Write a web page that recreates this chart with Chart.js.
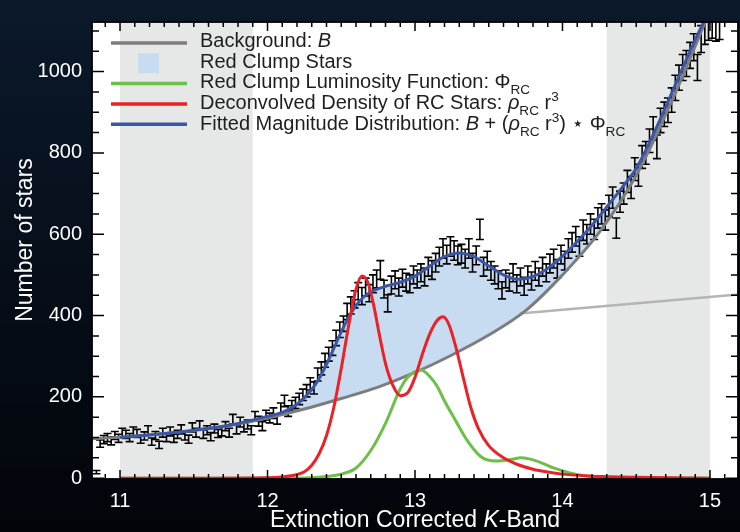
<!DOCTYPE html>
<html>
<head>
<meta charset="utf-8">
<title>Red Clump magnitude distribution</title>
<script src="https://cdn.jsdelivr.net/npm/chart.js@4.4.1/dist/chart.umd.min.js"></script>
<style>
  html, body { margin: 0; padding: 0; background: #050b14; }
  #wrap { width: 740px; height: 532px; }
</style>
</head>
<body>
<div id="wrap"><canvas id="grafica" width="740" height="532"></canvas></div>
<script>
// histogram: bin centres start at 10.84 mag, 0.025 mag wide
const binStart = 10.84;
const binWidth = 0.025;
const starCounts = [
  15, 85, 95, 100, 92, 105, 98, 112, 108, 100,
  115, 110, 96, 104, 118, 90, 105, 82, 112, 100,
  115, 98, 108, 120, 104, 96, 125, 112, 130, 108,
  118, 102, 122, 110, 115, 128, 112, 145, 120, 138,
  125, 132, 118, 152, 140, 128, 155, 148, 160, 145,
  172, 190, 165, 178, 185, 195, 205, 215, 232, 222,
  255, 270, 290, 305, 320, 345, 365, 380, 410, 425,
  440, 460, 448, 470, 455, 478, 490, 512, 465, 430,
  475, 488, 470, 492, 482, 478, 500, 490, 505, 495,
  520, 512, 530, 545, 565, 550, 570, 560, 548, 552,
  540, 565, 530, 548, 612, 520, 535, 510, 500, 488,
  462, 490, 482, 505, 478, 495, 472, 500, 485, 510,
  495, 520, 505, 528, 540, 515, 550, 535, 565, 580,
  595, 570, 610, 600, 625, 612, 640, 650, 635, 670,
  690, 615, 680, 700, 730, 715, 760, 745, 790, 800,
  830, 860, 815, 880, 895, 905, 930, 960, 985, 1010,
  1020, 1040, 1060, 1010, 1080, 1100, 1110, 1115, 1108, 1112
];
const starErrors = [
  4, 9, 10, 10, 10, 10, 10, 11, 10, 10,
  11, 10, 10, 10, 11, 9, 10, 9, 11, 10,
  11, 10, 10, 11, 10, 10, 11, 11, 11, 10,
  11, 10, 11, 10, 11, 11, 11, 12, 11, 12,
  11, 11, 11, 12, 12, 11, 12, 12, 13, 12,
  13, 14, 13, 13, 14, 14, 14, 15, 15, 15,
  16, 16, 17, 17, 18, 19, 19, 19, 20, 21,
  21, 21, 21, 22, 21, 22, 22, 23, 22, 21,
  22, 22, 22, 22, 22, 22, 22, 22, 22, 22,
  23, 23, 23, 23, 24, 23, 24, 24, 23, 23,
  23, 24, 23, 23, 25, 23, 23, 23, 22, 22,
  21, 22, 22, 22, 22, 22, 22, 22, 22, 23,
  22, 23, 22, 23, 23, 23, 23, 23, 24, 24,
  24, 24, 25, 24, 25, 25, 25, 25, 25, 26,
  26, 25, 26, 26, 27, 27, 28, 27, 28, 28,
  29, 29, 29, 30, 30, 30, 30, 31, 31, 32,
  32, 32, 33, 32, 33, 33, 33, 33, 33, 33
];

// Background: B
const bgX = [10.81, 11.0, 11.25, 11.5, 11.75, 12.0, 12.25, 12.5, 12.75, 13.0, 13.25, 13.5, 13.75, 14.0, 14.25, 14.5, 14.75, 15.0];
const bgY = [97, 101, 108, 117, 130, 148, 170, 196, 224, 260, 303, 352, 412, 500, 605, 745, 935, 1150];

// Fitted magnitude distribution
const fitX = [11.0, 11.25, 11.5, 11.75, 12.0, 12.1, 12.2, 12.3, 12.35, 12.4, 12.45, 12.5, 12.55, 12.6, 12.65, 12.7, 12.8, 12.9, 13.0, 13.1, 13.2, 13.3, 13.4, 13.5, 13.6, 13.7, 13.8, 13.9, 14.0, 14.1, 14.2, 14.3, 14.4, 14.5, 14.6, 14.7, 14.8, 14.9, 15.0];
const fitY = [100, 108, 118, 131, 152, 162, 182, 218, 245, 280, 320, 360, 395, 425, 445, 458, 472, 482, 497, 522, 545, 554, 545, 522, 500, 489, 496, 516, 546, 582, 622, 667, 713, 762, 833, 913, 997, 1078, 1155];

// Deconvolved density of RC stars
const rhoX = [11.0, 11.5, 12.0, 12.1, 12.2, 12.25, 12.3, 12.35, 12.4, 12.45, 12.5, 12.55, 12.6, 12.64, 12.68, 12.72, 12.76, 12.8, 12.85, 12.9, 12.95, 13.0, 13.05, 13.1, 13.15, 13.19, 13.23, 13.28, 13.33, 13.38, 13.43, 13.5, 13.6, 13.7, 13.8, 13.9, 14.0, 14.2, 14.5, 15.0];
const rhoY = [0, 0, 1, 3, 9, 16, 32, 60, 105, 175, 270, 375, 465, 497, 482, 425, 350, 282, 228, 203, 210, 248, 305, 355, 388, 397, 378, 318, 243, 172, 122, 80, 50, 33, 22, 15, 10, 5, 2, 0];

// Red clump luminosity function
const phiX = [11.0, 12.0, 12.3, 12.4, 12.5, 12.6, 12.7, 12.8, 12.9, 12.95, 13.0, 13.04, 13.1, 13.15, 13.2, 13.27, 13.35, 13.45, 13.55, 13.65, 13.72, 13.8, 13.87, 13.95, 14.05, 14.15, 14.3, 15.0];
const phiY = [0, 0, 1, 4, 10, 25, 68, 135, 220, 248, 262, 266, 250, 226, 190, 145, 95, 52, 42, 46, 50, 45, 36, 24, 13, 6, 2, 0];

// straight light grey line on the right
const guideX = [13.71, 15.19];
const guideY = [405, 452];

const shadedBands = [[11.0, 11.9], [14.3, 15.0]];
const xTickValues = [11, 12, 13, 14, 15];
const yTickValues = [0, 200, 400, 600, 800, 1000];

const fontFamily = "'Liberation Sans', Arial, Helvetica, 'DejaVu Sans', sans-serif";
const colGray = "#7d7d7d";
const colFill = "#c7dcf1";
const colGreen = "#6cbf47";
const colRed = "#ec2127";
const colBlue = "#3a56a5";

const toPoints = (xs, ys) => xs.map((x, i) => ({ x: x, y: ys[i] }));

const legendItems = [
  { kind: "line", color: colGray, parts: [{ t: "Background: " }, { t: "B", italic: true }] },
  { kind: "box", color: colFill, parts: [{ t: "Red Clump Stars" }] },
  { kind: "line", color: colGreen, parts: [{ t: "Red Clump Luminosity Function: Φ" }, { t: "RC", sub: true }] },
  { kind: "line", color: colRed, parts: [{ t: "Deconvolved Density of RC Stars: " }, { t: "ρ", italic: true }, { t: "RC", sub: true }, { t: " r" }, { t: "3", sup: true }] },
  { kind: "line", color: colBlue, parts: [{ t: "Fitted Magnitude Distribution: " }, { t: "B", italic: true }, { t: " + (" }, { t: "ρ", italic: true }, { t: "RC", sub: true }, { t: " r" }, { t: "3", sup: true }, { t: ") ⋆ Φ" }, { t: "RC", sub: true }] },
];

// text with italics / sub / superscripts
function setPartFont(ctx, p, size) {
  const fs = p.sub || p.sup ? size * 0.68 : size;
  ctx.font = (p.italic ? "italic " : "") + fs + "px " + fontFamily;
}
function richWidth(ctx, parts, size) {
  let w = 0;
  parts.forEach((p) => {
    setPartFont(ctx, p, size);
    w += ctx.measureText(p.t).width;
  });
  return w;
}
function drawRich(ctx, x, y, parts, size) {
  parts.forEach((p) => {
    setPartFont(ctx, p, size);
    const dy = p.sub ? size * 0.28 : p.sup ? -size * 0.4 : 0;
    ctx.fillText(p.t, x, y + dy);
    x += ctx.measureText(p.t).width;
  });
}

const backdrop = {
  id: "backdrop",
  beforeDraw(chart) {
    const { ctx, chartArea: a, scales } = chart;
    ctx.save();
    const g = ctx.createLinearGradient(0, 0, 0, chart.height);
    g.addColorStop(0, "#0b192b");
    g.addColorStop(1, "#020409");
    ctx.fillStyle = g;
    ctx.fillRect(0, 0, chart.width, chart.height);
    ctx.fillStyle = "#ffffff";
    ctx.fillRect(a.left, a.top, a.right - a.left, a.bottom - a.top);
    ctx.fillStyle = "#e6e7e7";
    shadedBands.forEach((b) => {
      const x0 = scales.x.getPixelForValue(b[0]);
      const x1 = scales.x.getPixelForValue(b[1]);
      ctx.fillRect(x0, a.top, x1 - x0, a.bottom - a.top);
    });
    ctx.restore();
  },
};

const errorBars = {
  id: "errorBars",
  beforeDatasetsDraw(chart) {
    const { ctx, chartArea: a, scales } = chart;
    ctx.save();
    ctx.beginPath();
    ctx.rect(a.left, a.top, a.right - a.left, a.bottom - a.top);
    ctx.clip();
    ctx.strokeStyle = "#000000";
    ctx.lineWidth = 1.6;
    ctx.beginPath();
    starCounts.forEach((n, i) => {
      const px = scales.x.getPixelForValue(binStart + i * binWidth);
      const top = scales.y.getPixelForValue(n + starErrors[i]);
      const bot = scales.y.getPixelForValue(n - starErrors[i]);
      ctx.moveTo(px, top);
      ctx.lineTo(px, bot);
      ctx.moveTo(px - 4, top);
      ctx.lineTo(px + 4, top);
      ctx.moveTo(px - 4, bot);
      ctx.lineTo(px + 4, bot);
    });
    ctx.stroke();
    ctx.restore();
  },
};

const frameAndLegend = {
  id: "frameAndLegend",
  afterDatasetsDraw(chart) {
    const { ctx, chartArea: a, scales } = chart;
    ctx.save();
    // frame with inward ticks on all four sides
    ctx.strokeStyle = "#000";
    ctx.lineWidth = 1.8;
    ctx.strokeRect(a.left, a.top, a.right - a.left, a.bottom - a.top);
    ctx.lineWidth = 1.5;
    ctx.beginPath();
    for (let k = 109; k <= 151; k++) {
      const px = scales.x.getPixelForValue(k / 10);
      const len = k % 10 === 0 ? 9 : 5;
      ctx.moveTo(px, a.bottom);
      ctx.lineTo(px, a.bottom - len);
      ctx.moveTo(px, a.top);
      ctx.lineTo(px, a.top + len);
    }
    for (let k = 0; k <= 22; k++) {
      const py = scales.y.getPixelForValue(k * 50);
      const len = k % 4 === 0 ? 12 : 7;
      ctx.moveTo(a.left, py);
      ctx.lineTo(a.left + len, py);
      ctx.moveTo(a.right, py);
      ctx.lineTo(a.right - len, py);
    }
    ctx.stroke();

    // legend
    ctx.textBaseline = "alphabetic";
    legendItems.forEach((item, i) => {
      const ly = 43 + i * 20.3;
      if (item.kind === "box") {
        ctx.fillStyle = item.color;
        ctx.fillRect(138, ly - 10, 21, 20);
      } else {
        ctx.strokeStyle = item.color;
        ctx.lineWidth = 3.5;
        ctx.beginPath();
        ctx.moveTo(111, ly);
        ctx.lineTo(187, ly);
        ctx.stroke();
      }
      ctx.fillStyle = "#1e1e1e";
      drawRich(ctx, 200, 46.7 + i * 20.8, item.parts, 20);
    });
    ctx.restore();
  },
  afterDraw(chart) {
    const { ctx, chartArea: a } = chart;
    const title = [{ t: "Extinction Corrected " }, { t: "K", italic: true }, { t: "-Band" }];
    ctx.save();
    ctx.fillStyle = "#ffffff";
    ctx.textBaseline = "alphabetic";
    const w = richWidth(ctx, title, 23);
    drawRich(ctx, (a.left + a.right) / 2 - w / 2, 527, title, 23);
    // y axis title
    ctx.translate(26, 240);
    ctx.rotate(-Math.PI / 2);
    ctx.textAlign = "center";
    ctx.textBaseline = "middle";
    ctx.font = "23px " + fontFamily;
    ctx.fillText("Number of stars", 0, 0);
    ctx.restore();
  },
};

const lineStyle = {
  pointRadius: 0,
  borderWidth: 3,
  fill: false,
  cubicInterpolationMode: "monotone",
};

new Chart(document.getElementById("grafica"), {
  type: "line",
  data: {
    datasets: [
      { ...lineStyle, label: "Deconvolved Density of RC Stars", data: toPoints(rhoX, rhoY), borderColor: colRed, order: 0 },
      {
        ...lineStyle,
        label: "Fitted Magnitude Distribution",
        data: toPoints(fitX, fitY),
        borderColor: colBlue,
        order: 1,
        fill: { target: 3, above: colFill, below: "rgba(0,0,0,0)" },
      },
      { ...lineStyle, label: "Red Clump Luminosity Function", data: toPoints(phiX, phiY), borderColor: colGreen, order: 2 },
      { ...lineStyle, label: "Background", data: toPoints(bgX, bgY), borderColor: colGray, order: 3 },
      { ...lineStyle, label: "guide", data: toPoints(guideX, guideY), borderColor: "#b4b4b4", borderWidth: 2.5, cubicInterpolationMode: "default", tension: 0, order: 4 },
    ],
  },
  options: {
    responsive: false,
    animation: false,
    events: [],
    layout: { padding: { top: 9, right: 2, left: 0, bottom: 0 } },
    plugins: {
      legend: { display: false },
      tooltip: { enabled: false },
      filler: { drawTime: "beforeDatasetsDraw" },
    },
    scales: {
      x: {
        type: "linear",
        min: 10.81,
        max: 15.19,
        grid: { display: false, drawTicks: false },
        border: { display: false },
        ticks: {
          color: "#ffffff",
          font: { family: fontFamily, size: 20 },
          padding: 10,
          maxRotation: 0,
          includeBounds: false,
          callback: (v) => String(v),
        },
        afterBuildTicks: (scale) => {
          scale.ticks = xTickValues.map((v) => ({ value: v }));
        },
        afterFit: (scale) => {
          scale.height = 53;
        },
      },
      y: {
        type: "linear",
        min: -2,
        max: 1122,
        grid: { display: false, drawTicks: false },
        border: { display: false },
        ticks: {
          color: "#ffffff",
          font: { family: fontFamily, size: 20 },
          padding: 10,
          includeBounds: false,
          callback: (v) => String(v),
        },
        afterBuildTicks: (scale) => {
          scale.ticks = yTickValues.map((v) => ({ value: v }));
        },
        afterFit: (scale) => {
          scale.width = 92;
        },
      },
    },
  },
  plugins: [backdrop, errorBars, frameAndLegend],
});
</script>
</body>
</html>
